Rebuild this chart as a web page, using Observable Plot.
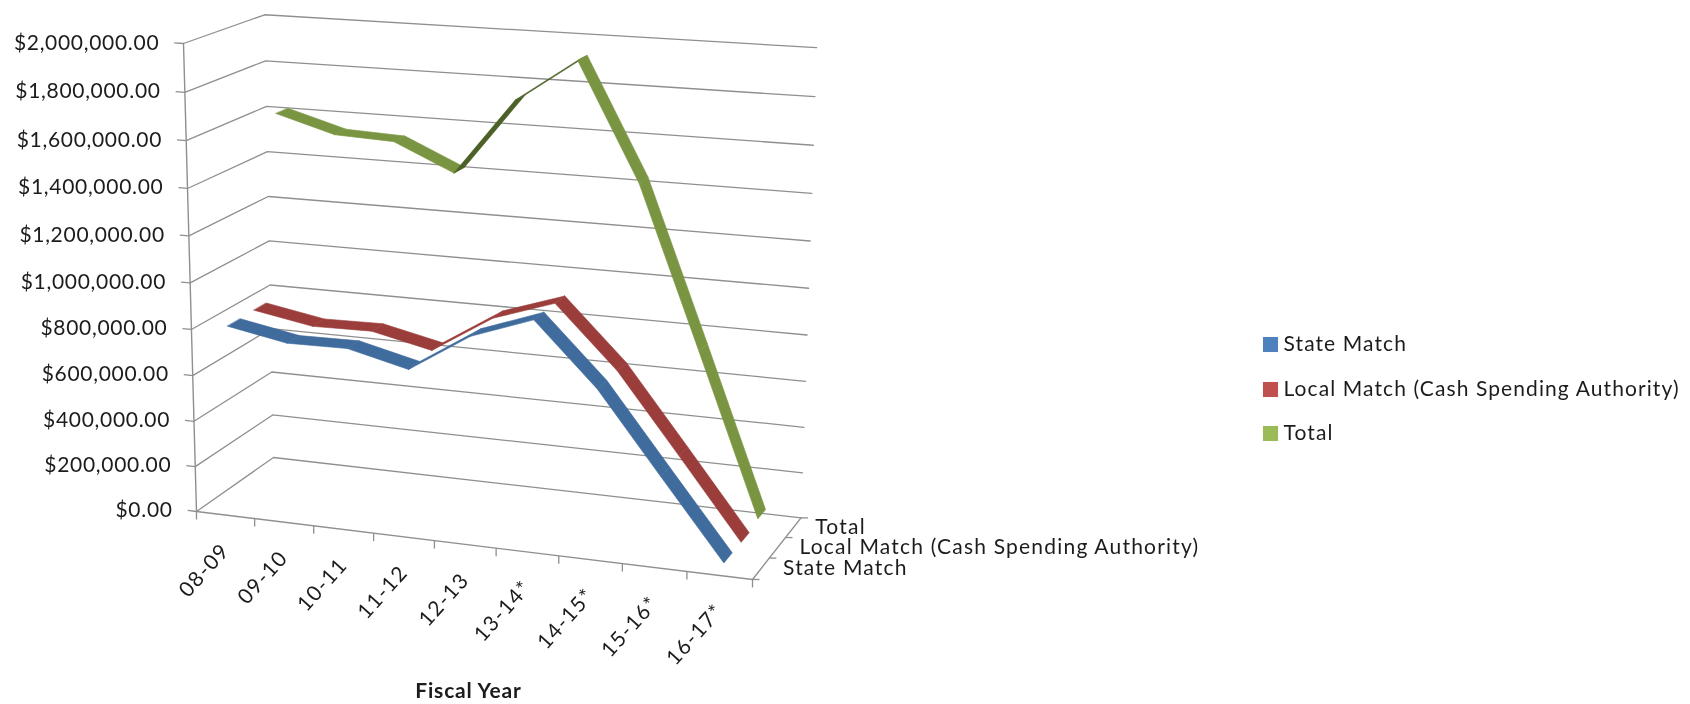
<!DOCTYPE html>
<html>
<head>
<meta charset="utf-8">
<script src="https://cdn.jsdelivr.net/npm/d3@7"></script>
<script src="https://cdn.jsdelivr.net/npm/@observablehq/plot@0.6"></script>
<style>
html,body{margin:0;padding:0;background:#fff;}
svg{display:block;filter:blur(0.45px);}
.ytxt text{letter-spacing:0.7px;}
.xtxt text{letter-spacing:1.3px;}
.dtxt text{letter-spacing:1.2px;}
.ltxt text{letter-spacing:1.1px;}
.ttl text{letter-spacing:0.8px;}
</style>
</head>
<body>
<div id="chart"></div>
<script>
const categories = ["08-09","09-10","10-11","11-12","12-13","13-14*","14-15*","15-16*","16-17*"];
const seriesNames = ["State Match","Local Match (Cash Spending Authority)","Total"];
const stateMatch = [807000,759000,762000,699000,865000,959000,698000,361000,27000];
const localMatch = [810000,764000,768000,710000,874000,962000,702000,366000,26000];
const total = [1611000,1538000,1527000,1412000,1739000,1921000,1429000,740000,41000];
const yTicks = [0,200000,400000,600000,800000,1000000,1200000,1400000,1600000,1800000,2000000];
const yMax = 2000000;
const ribbonColors = ["#3f6b9d","#9b3e3b","#7a9541"];
const ribbonUnder = ["#2f5078","#742e2c","#4c6127"];
const legendColors = ["#4f81bd","#c0504d","#9bbb59"];

// Perspective of the 3-D box: corners of the box and the foreshortening along each axis
const O=[196,511], X=[752,579], Y=[273,457], Z=[183,43];
const fa=-0.065, fb=0.06, fc=-0.045;
function project(u,d,h){
  const w=1+fa*u+fb*d+fc*h;
  const c=k=>(O[k]+u*((1+fa)*X[k]-O[k])+d*((1+fb)*Y[k]-O[k])+h*((1+fc)*Z[k]-O[k]))/w;
  return [c(0),c(1)];
}
const n=categories.length;
const uOf=i=>(i+0.5)/n;
const depthOf=s=>(s+0.5)/seriesNames.length;
const halfRibbon=0.08;

// ---- derived tables ----
const gridRows=yTicks.flatMap(v=>{
  const h=v/yMax;
  return [[0,0],[0,1],[1,1]].map(([u,d])=>{const p=project(u,d,h);return {v,x:p[0],y:p[1]};});
});
const yTickRows=yTicks.map(v=>{
  const a=project(0,0,v/yMax), b=project(-0.017,0,v/yMax);
  return {v,x1:a[0],y1:a[1],x2:b[0],y2:b[1],label:"$"+d3.format(",.2f")(v)};
});
const frame=[[0,0,0],[1,0,0],[1,1,0]].map(q=>{const p=project(...q);return {x:p[0],y:p[1]};});
const yAxisLine=[[0,0,0],[0,0,1]].map(q=>{const p=project(...q);return {x:p[0],y:p[1]};});
const xTickRows=d3.range(n+1).map(i=>{const p=project(i/n,0,0);return {x:p[0],y:p[1]};});
const xLabelRows=categories.map((c,i)=>{const p=project(uOf(i),0,0);return {c,x:p[0],y:p[1]};});
const depthTickRows=d3.range(seriesNames.length+1).map(s=>{const p=project(1,s/seriesNames.length,0);return {x:p[0],y:p[1]};});
const depthLabelRows=seriesNames.map((c,s)=>{const p=project(1,depthOf(s),0);return {c,x:p[0],y:p[1]};});

function ribbon(values,s){
  const rows=[];
  for(let i=0;i<values.length-1;i++){
    const at=j=>{
      const h=values[j]/yMax, d=depthOf(s);
      const a=project(uOf(j),d-halfRibbon,h), b=project(uOf(j),d+halfRibbon,h);
      return {x1:a[0],y1:a[1],x2:b[0],y2:b[1]};
    };
    const A=at(i),B=at(i+1);
    const sx=(B.x1+B.x2-A.x1-A.x2)/2, sy=(B.y1+B.y2-A.y1-A.y2)/2;
    const dx=A.x2-A.x1, dy=A.y2-A.y1;
    const under=sx*dy-sy*dx>0;
    rows.push({seg:i,...A,under},{seg:i,...B,under});
  }
  return rows;
}
const ribbonMarks=[[total,2],[localMatch,1],[stateMatch,0]].map(([vals,s])=>{
  return Plot.area(ribbon(vals,s),{
    x1:"x1",y1:"y1",x2:"x2",y2:"y2",z:"seg",
    fill:r=>r.under?ribbonUnder[s]:ribbonColors[s],
    stroke:r=>r.under?ribbonUnder[s]:ribbonColors[s],strokeWidth:0.6
  });
});

const legendRows=seriesNames.map((c,i)=>({c,i,color:legendColors[i],y:[344,389,433][i]}));

const font="Lato, Carlito, sans-serif";
const textColor="#1c1c1c";
const gridColor="#8f8f8f";
const tick=(data,dx,dy)=>Plot.link(data,{x1:"x",y1:"y",x2:d=>d.x+dx,y2:d=>d.y+dy,stroke:gridColor,strokeWidth:1.3});

const chart=Plot.plot({
  width:1690,height:704,margin:0,
  style:{background:"#fff",fontFamily:font},
  x:{type:"identity",axis:null},y:{type:"identity",axis:null},
  marks:[
    Plot.line(gridRows,{x:"x",y:"y",z:"v",stroke:gridColor,strokeWidth:1.3}),
    Plot.line(yAxisLine,{x:"x",y:"y",stroke:gridColor,strokeWidth:1.4}),
    Plot.line(frame,{x:"x",y:"y",stroke:gridColor,strokeWidth:1.4}),
    Plot.link(yTickRows,{x1:"x1",y1:"y1",x2:"x2",y2:"y2",stroke:gridColor,strokeWidth:1.3}),
    tick(xTickRows,0,8),
    tick(depthTickRows,7,0),
    ...ribbonMarks,
    Plot.text(yTickRows,{x:"x2",y:"y2",text:"label",textAnchor:"end",dx:-15,fontSize:21,fill:textColor,className:"ytxt"}),
    Plot.text(xLabelRows,{x:"x",y:"y",text:"c",textAnchor:"end",rotate:-48,dx:0,dy:32,fontSize:21,fill:textColor,className:"xtxt"}),
    Plot.text(depthLabelRows,{x:"x",y:"y",text:"c",textAnchor:"start",dx:22,fontSize:21,fill:textColor,className:"dtxt"}),
    Plot.text(["Fiscal Year"],{x:()=>468,y:()=>691,text:d=>d,fontWeight:"bold",fontSize:21,fill:textColor,className:"ttl"}),
    Plot.dot(legendRows,{x:()=>1270,y:"y",symbol:"square",r:8.5,fill:"color"}),
    Plot.text(legendRows,{x:()=>1283,y:"y",text:"c",textAnchor:"start",fontSize:21,fill:textColor,className:"ltxt"})
  ]
});
document.getElementById("chart").appendChild(chart);
</script>
</body>
</html>
